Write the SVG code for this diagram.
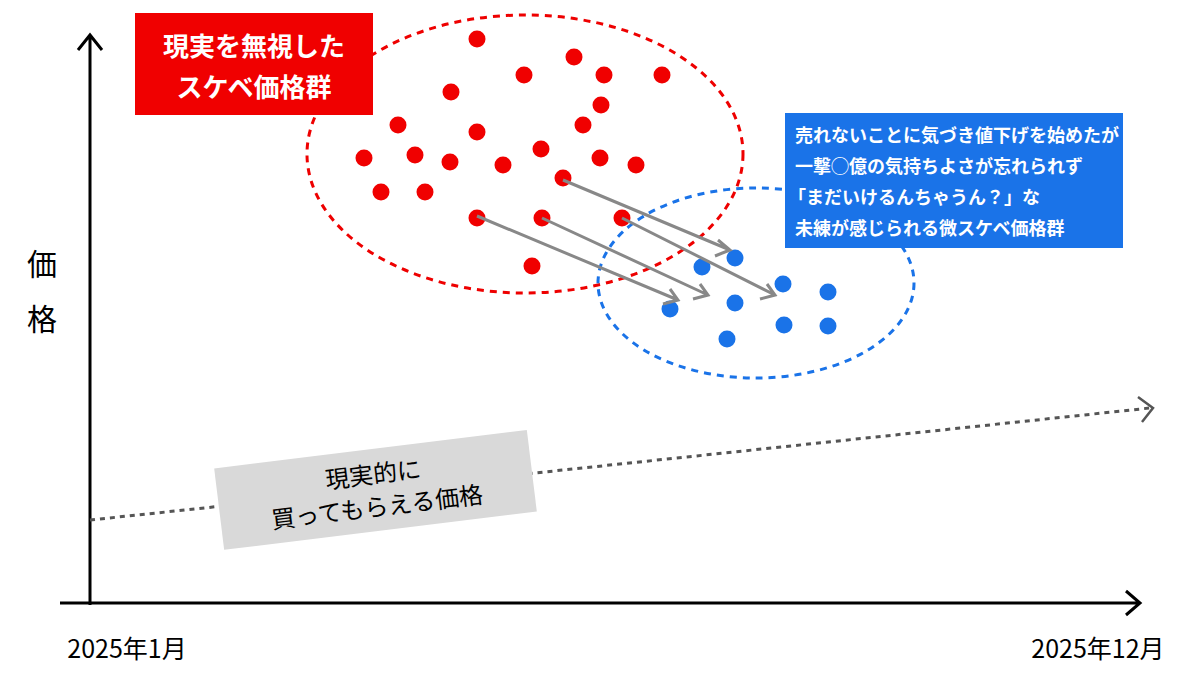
<svg xmlns="http://www.w3.org/2000/svg" width="1200" height="675" viewBox="0 0 1200 675">
<style>
text{font-family:"Noto Sans CJK JP","Noto Sans",sans-serif}
.r{fill:#f00000}.b{fill:#1a73e8}
.ax{stroke:#000;stroke-width:3;fill:none}
.ar{stroke:#888;stroke-width:3;fill:none}
</style>
<rect width="1200" height="675" fill="#fff"/>
<g id="axes">
<path class="ax" d="M90,605 V35 M78,50 L90,35 L102,50"/>
<path class="ax" d="M60,603 H1140 M1126,591 L1140,603 L1126,615"/>
</g>
<text x="42" y="275" font-size="30" text-anchor="middle">価</text>
<text x="42" y="330" font-size="30" text-anchor="middle">格</text>
<text x="127" y="658" font-size="25" text-anchor="middle">2025年1月</text>
<text x="1098" y="658" font-size="25" text-anchor="middle">2025年12月</text>
<g id="trend">
<path d="M90,520 L1150,408" stroke="#555" stroke-width="3" stroke-dasharray="5,5" fill="none"/>
<path d="M1138,397 L1153,408 L1142,422" stroke="#555" stroke-width="2.5" fill="none"/>
</g>
<g id="realistic" transform="rotate(-7 375 490)">
<rect x="218" y="449" width="315" height="82" fill="#d9d9d9"/>
<text x="375" y="483" font-size="24" text-anchor="middle">現実的に</text>
<text x="375" y="516" font-size="24" text-anchor="middle">買ってもらえる価格</text>
</g>
<g id="red-group">
<ellipse cx="525" cy="154" rx="218" ry="139" fill="none" stroke="#e00" stroke-width="3" stroke-dasharray="7,6"/>
<g class="r">
<circle cx="477" cy="39" r="8.5"/><circle cx="574" cy="57" r="8.5"/><circle cx="524" cy="75" r="8.5"/><circle cx="604" cy="75" r="8.5"/><circle cx="662" cy="75" r="8.5"/><circle cx="451" cy="92" r="8.5"/><circle cx="601" cy="105" r="8.5"/><circle cx="398" cy="125" r="8.5"/><circle cx="583" cy="125" r="8.5"/><circle cx="477" cy="132" r="8.5"/><circle cx="541" cy="149" r="8.5"/><circle cx="364" cy="158" r="8.5"/><circle cx="415" cy="155" r="8.5"/><circle cx="450" cy="162" r="8.5"/><circle cx="503" cy="165" r="8.5"/><circle cx="600" cy="158" r="8.5"/><circle cx="636" cy="165" r="8.5"/><circle cx="381" cy="192" r="8.5"/><circle cx="425" cy="192" r="8.5"/><circle cx="563" cy="178" r="8.5"/><circle cx="477" cy="218" r="8.5"/><circle cx="542" cy="218" r="8.5"/><circle cx="622" cy="218" r="8.5"/><circle cx="532" cy="266" r="8.5"/>
</g>
</g>
<g id="red-label">
<rect x="135" y="13" width="238" height="102" fill="#f00000"/>
<text x="254" y="56" font-size="26" font-weight="bold" fill="#fff" text-anchor="middle">現実を無視した</text>
<text x="254" y="97" font-size="26" font-weight="bold" fill="#fff" text-anchor="middle">スケベ価格群</text>
</g>
<g id="blue-group">
<ellipse cx="756" cy="283" rx="158" ry="95" fill="none" stroke="#1a73e8" stroke-width="3" stroke-dasharray="7,6"/>
<g class="b">
<circle cx="735" cy="258" r="8.5"/><circle cx="702" cy="267" r="8.5"/><circle cx="783" cy="284" r="8.5"/><circle cx="828" cy="292" r="8.5"/><circle cx="735" cy="303" r="8.5"/><circle cx="670" cy="309" r="8.5"/><circle cx="784" cy="325" r="8.5"/><circle cx="828" cy="326" r="8.5"/><circle cx="727" cy="339" r="8.5"/>
</g>
</g>
<g id="connectors">
<path class="ar" d="M563,180 L730,250 M718,240 L730,250 L715,256"/>
<path class="ar" d="M622,218 L775,295 M767,284 L775,295 L760,299"/>
<path class="ar" d="M542,218 L708,295 M700,284 L708,295 L693,299"/>
<path class="ar" d="M477,216 L678,300 M670,289 L678,300 L663,304"/>
</g>
<g id="blue-label">
<rect x="785" y="113" width="338" height="135" fill="#1a73e8"/>
<g fill="#fff" font-size="18" font-weight="bold">
<text x="795" y="142">売れないことに気づき値下げを始めたが</text>
<text x="795" y="173">一撃◯億の気持ちよさが忘れられず</text>
<text x="788" y="204">「まだいけるんちゃうん？」な</text>
<text x="795" y="235">未練が感じられる微スケベ価格群</text>
</g>
</g>
</svg>
